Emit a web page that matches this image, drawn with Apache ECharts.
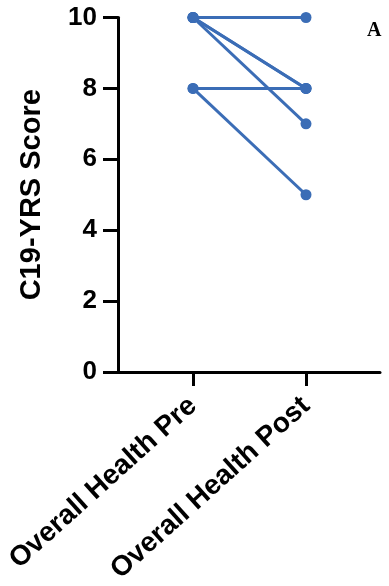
<!DOCTYPE html>
<html>
<head>
<meta charset="utf-8">
<script src="https://cdn.jsdelivr.net/npm/echarts@6/dist/echarts.min.js"></script>
<style>
  html, body { margin: 0; padding: 0; background: #fff; }
  #chart { width: 389px; height: 586px; }
</style>
</head>
<body>
<div id="chart"></div>
<script>
// Time points on the x axis
const categories = ['Overall Health Pre', 'Overall Health Post'];
// Paired scores per participant (pre, post)
const preScores  = [10, 10, 10, 10, 8, 8];
const postScores = [10, 8, 8, 7, 8, 5];
// Y-axis ticks
const yTicks = [0, 2, 4, 6, 8, 10];

const lineColor = '#3b6db6';
const labelFont = 'Arial, "Liberation Sans", sans-serif';

// One line per participant joining the pre and post scores
const series = preScores.map((pre, i) => ({
  type: 'line',
  data: [[0, pre], [1, postScores[i]]],
  symbol: 'circle',
  symbolSize: 11,
  itemStyle: { color: lineColor },
  lineStyle: { color: lineColor, width: 3 },
  emphasis: { disabled: true },
  animation: false
}));

const chart = echarts.init(document.getElementById('chart'));
chart.setOption({
  animation: false,
  title: {
    text: 'A',
    left: 367,
    top: 21,
    padding: 0,
    textStyle: { fontFamily: '"Times New Roman", "Liberation Serif", serif', fontWeight: 'bold', fontSize: 20, color: '#000' }
  },
  grid: { left: 118, right: 9, top: 17.5, bottom: 214, outerBoundsMode: 'none' },
  xAxis: {
    type: 'value',
    min: -0.664,
    max: 1.655,
    splitLine: { show: false },
    axisLine: { show: true, onZero: false, lineStyle: { color: '#000', width: 3 } },
    axisTick: { show: true, customValues: [0, 1], length: 14, lineStyle: { color: '#000', width: 3 } },
    axisLabel: {
      customValues: [0, 1],
      formatter: v => categories[Math.round(v)],
      rotate: 42,
      margin: 30,
      color: '#000',
      fontFamily: labelFont,
      fontWeight: 'bold',
      fontSize: 28
    }
  },
  yAxis: {
    type: 'value',
    min: 0,
    max: 10,
    interval: 2,
    splitLine: { show: false },
    axisLine: { show: true, onZero: false, lineStyle: { color: '#000', width: 3 } },
    axisTick: { show: true, customValues: yTicks, length: 15, lineStyle: { color: '#000', width: 3 } },
    axisLabel: {
      customValues: yTicks,
      margin: 21,
      color: '#000',
      fontFamily: labelFont,
      fontWeight: 'bold',
      fontSize: 26
    },
    name: 'C19-YRS Score',
    nameLocation: 'middle',
    nameGap: 72,
    nameTextStyle: { color: '#000', fontFamily: labelFont, fontWeight: 'bold', fontSize: 29 }
  },
  series: series
});
</script>
</body>
</html>
